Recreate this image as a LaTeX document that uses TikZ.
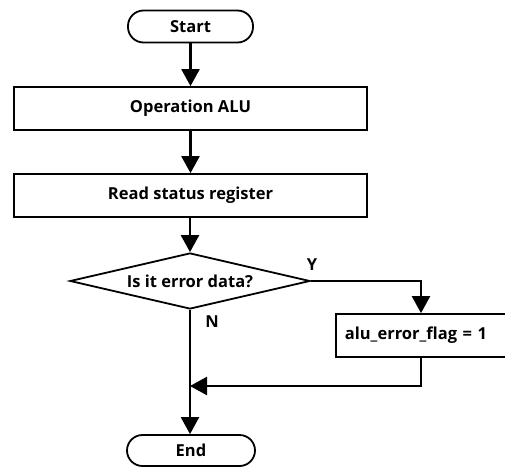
\documentclass[tikz,border=0pt]{standalone}
\usepackage{fontspec}
\setmainfont{Open Sans}
\usetikzlibrary{arrows.meta,shapes.geometric}
\begin{document}
\begin{tikzpicture}[x=1pt,y=-1pt,
  line width=1.8pt,
  font=\bfseries\fontsize{16.5}{19}\selectfont,
  arr/.style={line width=2.4pt,-{Triangle[width=18pt,length=17pt]}},
  term/.style={draw,rounded corners=15.5pt,minimum width=125pt,minimum height=32pt,inner sep=0pt},
  proc/.style={draw,rectangle,minimum height=43pt,inner sep=0pt},
  lbl/.style={inner sep=0pt}]
\useasboundingbox (0,0) rectangle (505,466);
\clip (0,0) rectangle (505,466);
\node[term] (start) at (190.5,26.5) {Start};
\node[proc,minimum width=353pt] (op) at (190.5,108.5) {Operation ALU};
\node[proc,minimum width=353pt] (rd) at (190.5,195.5) {Read status register};
\node[draw,diamond,minimum width=240pt,minimum height=56pt,inner sep=0pt] (dec) at (190,281) {};
\node[lbl] (dect) at (190,281) {Is it error data?};
\node[proc,minimum width=172pt,anchor=west,text width=162pt,align=left,inner xsep=9pt] (alu) at (335,335.5) {alu\_error\_flag = 1};
\node[term,minimum width=128pt,minimum height=31pt] (end) at (191,450.5) {End};
\node[lbl] (ylab) at (312,265) {Y};
\node[lbl] (nlab) at (212,322) {N};
\coordinate (c1) at (421,281);
\coordinate (c2) at (421,386);
\coordinate (c3) at (190,386);
\draw[arr] (start) -- (op);
\draw[arr] (op) -- (rd);
\draw[arr] (rd.south -| dec.north) -- (dec.north);
\draw[arr] (dec.east) -- (c1) -- (alu.north -| c1);
\draw[arr] (dec.south) -- (end.north -| dec.south);
\draw[arr] (alu.south -| c1) -- (c2) -- (c3);
\end{tikzpicture}
\end{document}
